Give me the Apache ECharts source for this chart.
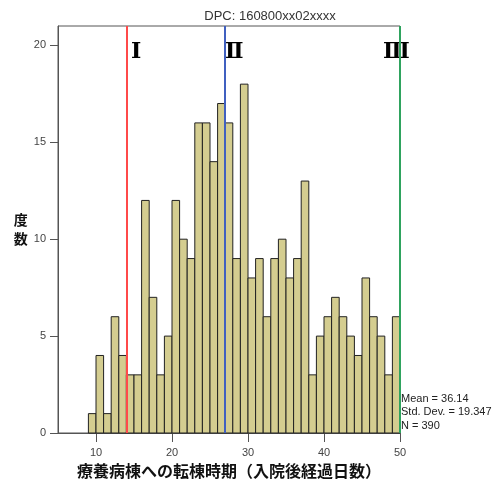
<!DOCTYPE html>
<html><head><meta charset="utf-8">
<script src="https://cdn.jsdelivr.net/npm/echarts@6/dist/echarts.min.js"></script>
<style>html,body{margin:0;padding:0;background:#fff}#c{width:500px;height:479px}</style>
</head><body><div id="c"></div>
<script>
const binStarts = [9,10,11,12,13,14,15,16,17,18,19,20,21,22,23,24,25,26,27,28,29,30,31,32,33,34,35,36,37,38,39,40,41,42,43,44,45,46,47,48,49];
const counts    = [1,4,1,6,4,3,3,12,7,3,5,12,10,9,16,16,14,17,16,9,18,8,9,6,9,10,8,9,13,3,5,6,7,6,5,4,8,6,5,3,6];
const xTicks = [10,20,30,40,50];
const yTicks = [0,5,10,15,20];
const phaseLines = [14,27,50];
const phaseColors = ['#ff4a4a','#4060c0','#2fa35e'];
const phaseLabels = ['Ⅰ','Ⅱ','Ⅲ'];
const titleText = 'DPC: 160800xx02xxxx';
const statsText = ['Mean = 36.14','Std. Dev. = 19.347','N = 390'];

const chart = echarts.init(document.getElementById('c'));
const data = binStarts.map((b,i)=>[b,counts[i]]);
chart.setOption({
  animation:false,
  title:{text:titleText,left:265,textAlign:'center',top:5,textStyle:{fontFamily:'Liberation Sans',fontSize:13,fontWeight:'normal',color:'#333'}},
  grid:{left:58,right:100,top:26,bottom:46,containLabel:false,outerBoundsMode:'none',show:true,borderColor:'#555',borderWidth:1,backgroundColor:'transparent'},
  xAxis:{type:'value',min:5,max:50,
    name:'療養病棟への転棟時期（入院後経過日数）',nameLocation:'middle',nameGap:23,
    nameTextStyle:{fontFamily:'Noto Sans CJK JP',fontWeight:'bold',fontSize:16,color:'#111'},
    axisLine:{show:true,lineStyle:{color:'#555'}},
    axisTick:{show:true,customValues:xTicks,length:9,lineStyle:{color:'#555'}},
    axisLabel:{customValues:xTicks,fontFamily:'Liberation Sans',fontSize:11,color:'#444',margin:14},
    splitLine:{show:false}},
  yAxis:{type:'value',min:0,max:21,
    name:'度\n数',nameLocation:'middle',nameRotate:0,nameGap:29,
    nameTextStyle:{fontFamily:'Noto Sans CJK JP',fontWeight:'bold',fontSize:14,color:'#111',lineHeight:19},
    axisLine:{show:true,lineStyle:{color:'#555'}},
    axisTick:{show:true,customValues:yTicks,length:8,lineStyle:{color:'#555'}},
    axisLabel:{customValues:yTicks,fontFamily:'Liberation Sans',fontSize:11,color:'#444',margin:12},
    splitLine:{show:false}},
  series:[{
    type:'custom',
    data:data,
    renderItem:function(params,api){
      const x=api.value(0), y=api.value(1);
      const p0=api.coord([x,y]);
      const p1=api.coord([x+1,0]);
      return {type:'rect',shape:{x:p0[0],y:p0[1],width:p1[0]-p0[0],height:p1[1]-p0[1]},
        style:{fill:'#d4cd90',stroke:'#222',lineWidth:1}};
    },
    encode:{x:0,y:1},
    markLine:{silent:true,symbol:'none',label:{show:false},
      data:phaseLines.map((v,i)=>({xAxis:v,lineStyle:{color:phaseColors[i],width:2,type:'solid'}}))},
    z:2
  }],
  graphic:[
    {type:'text',left:131,top:41,style:{text:phaseLabels[0],font:'bold 22px "DejaVu Serif"',fill:'#000'}},
    {type:'text',left:225,top:41,style:{text:phaseLabels[1],font:'bold 22px "DejaVu Serif"',fill:'#000'}},
    {type:'text',left:383,top:41,style:{text:phaseLabels[2],font:'bold 22px "DejaVu Serif"',fill:'#000'}},
    {type:'text',left:401,top:392,style:{text:statsText.join('\n'),font:'11px "Liberation Sans"',fill:'#222',lineHeight:13.5}}
  ]
});
</script></body></html>
